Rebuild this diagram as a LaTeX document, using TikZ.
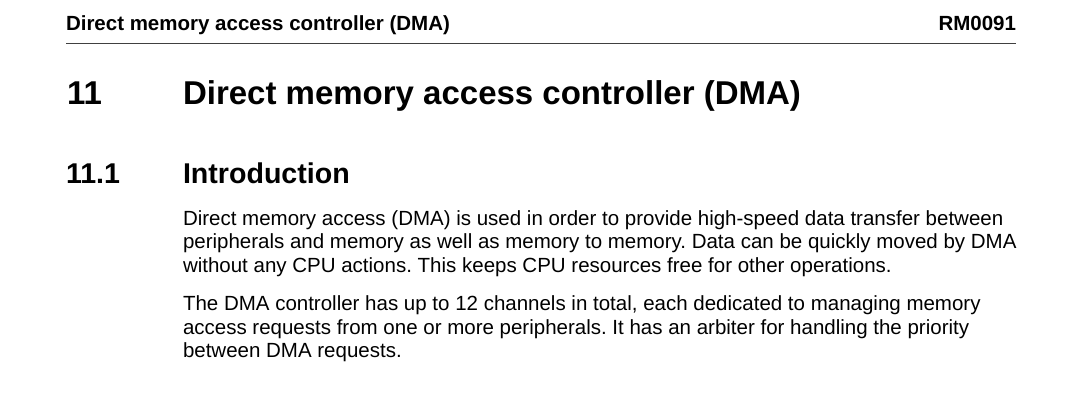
\documentclass[tikz,border=0pt]{standalone}
\usepackage{fontspec}
\setmainfont{Liberation Sans}
\frenchspacing
\begin{document}
\begin{tikzpicture}[x=1pt,y=-1pt,
  every node/.style={inner sep=0pt, outer sep=0pt, text=black},
  hdrtext/.style={anchor=base west, font=\fontsize{20.5}{24}\selectfont\bfseries},
  titletext/.style={anchor=base west, font=\fontsize{33}{38}\selectfont\bfseries},
  sectext/.style={anchor=base west, font=\fontsize{28.6}{34}\selectfont\bfseries},
  bodytext/.style={anchor=base west, font=\fontsize{20.5}{23.5}\selectfont\frenchspacing},
  rulestyle/.style={line width=1.5pt, draw=black!75}]
\useasboundingbox (0,0) rectangle (1080,404);
\fill[white] (0,0) rectangle (1080,404);
% running header
\node[hdrtext] (hdr) at (66,31) {Direct memory access controller (DMA)};
\node[hdrtext, anchor=base east] (rm) at (1016,31) {RM0091};
\coordinate (rl) at (66,43.5);
\coordinate (rr) at (1016,43.5);
\draw[rulestyle] (rl) -- (rr);
% chapter title
\node[titletext] (chnum) at (67,104) {11};
\node[titletext] (chtitle) at (183,104) {Direct memory access controller (DMA)};
% section title
\node[sectext] (secnum) at (66,183) {11.1};
\node[sectext] (sectitle) at (183,183) {Introduction};
% body
\node[bodytext] (p1a) at (183,225) {Direct memory access (DMA) is used in order to provide high-speed data transfer between};
\node[bodytext] (p1b) at (183,248.5) {peripherals and memory as well as memory to memory. Data can be quickly moved by DMA};
\node[bodytext] (p1c) at (183,272) {without any CPU actions. This keeps CPU resources free for other operations.};
\node[bodytext] (p2a) at (183,310.5) {The DMA controller has up to 12 channels in total, each dedicated to managing memory};
\node[bodytext] (p2b) at (183,334) {access requests from one or more peripherals. It has an arbiter for handling the priority};
\node[bodytext] (p2c) at (183,357.5) {between DMA requests.};
\end{tikzpicture}
\end{document}
